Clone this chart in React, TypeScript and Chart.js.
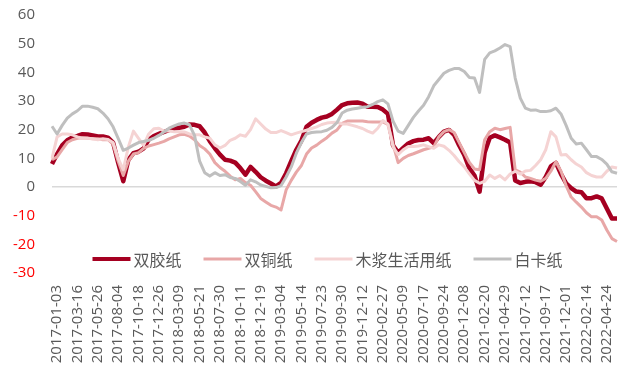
import React, { useEffect, useRef } from 'react';
import { Chart, registerables } from 'chart.js';

Chart.register(...registerables);

// x-axis tick labels (one every POINTS_PER_LABEL data points)
const tickLabels = [
  '2017-01-03', '2017-03-16', '2017-05-26', '2017-08-04', '2017-10-18', '2017-12-26',
  '2018-03-09', '2018-05-21', '2018-07-30', '2018-10-11', '2018-12-19', '2019-03-04',
  '2019-05-14', '2019-07-23', '2019-09-30', '2019-12-12', '2020-02-27', '2020-05-09',
  '2020-07-17', '2020-09-24', '2020-12-08', '2021-02-20', '2021-04-29', '2021-07-12',
  '2021-09-17', '2021-12-01', '2022-02-14', '2022-04-24',
];
const POINTS_PER_LABEL = 4;

const seriesNames = ['双胶纸', '双铜纸', '木浆生活用纸', '白卡纸'];

// 双胶纸
const shuangJiao = [
  8, 11.5, 14.5, 16.3, 17.3, 17.8, 18.4, 18.3, 18, 17.6,
  17.6, 17.2, 15.5, 8.5, 2, 9.5, 11.8, 12.3, 13.5, 16.5,
  17.8, 18.5, 19.2, 19.8, 20.4, 20.7, 21, 21.8, 21.7, 21.2,
  19, 16, 13.5, 11.3, 9.5, 9.2, 8.5, 6.6, 4.3, 7,
  5.3, 3.4, 2.2, 1.2, 0.2, 1.5, 4.8, 9, 13, 16.2,
  21, 22.4, 23.4, 24.2, 24.6, 25.5, 27, 28.6, 29.2, 29.4,
  29.5, 29.1, 28, 28, 27.9, 27, 25.5, 14.5, 12, 13.6,
  15.2, 16, 16.4, 16.5, 17, 15.3, 17.5, 19.3, 19.9, 18.2,
  14.5, 11.2, 6.5, 4, -1.6, 12, 17.2, 18, 17.3, 16.5,
  15.5, 2.3, 1.4, 1.8, 2, 1.7, 0.8, 3.5, 7.2, 8.4,
  4.5, 1.3, -0.4, -1.6, -1.8, -3.9, -3.9, -3.3, -4, -7.5,
  -11, -11,
];

// 双铜纸
const shuangTong = [
  9.5, 10.5, 13, 15.5, 16.5, 17, 17.2, 17, 16.8, 16.8,
  16.5, 16.5, 15, 9, 4, 9, 11.5, 12, 13.5, 14.3,
  14.8, 15.3, 15.9, 16.8, 17.5, 18.2, 18.4, 17.8, 16.5, 14.5,
  13.3, 11.5, 8.5, 6.8, 5.5, 3.8, 2.5, 3, 1.5, 0.6,
  -1.6, -4, -5.2, -6.4, -7, -8, -1, 2.3, 5.2, 7.5,
  11.5, 13.6, 14.6, 16, 17.2, 18.8, 19.9, 22.2, 23, 23,
  23, 23, 22.8, 22.7, 22.7, 22.7, 21.8, 15, 8.5, 10,
  11, 11.6, 12.3, 13, 13.5, 14, 17.5, 19.3, 20, 19,
  15.5, 12, 8.6, 6.3, 6, 16.5, 19.3, 20.5, 20, 20.4,
  20.8, 6, 5.2, 3.5, 3, 2.4, 2, 3, 5.5, 8.8,
  5.5, 0.5, -3.5, -5.3, -7, -9, -10.4, -10.4, -11.5, -15,
  -18, -19,
];

// 木浆生活用纸
const muJiang = [
  10, 17.5, 18.5, 18.5, 18.2, 17.5, 17, 17, 16.8, 16.5,
  16.8, 16.6, 15.5, 10, 6, 14, 19.5, 17, 14.5, 18.5,
  20.3, 20.5, 19.5, 19.5, 19.3, 19.3, 19.2, 18.5, 18.2, 18.2,
  17.5, 17, 14.7, 13.6, 14.5, 16.3, 17, 18.2, 17.7, 20,
  23.8, 22, 20.2, 19, 19, 19.7, 19, 18.2, 18.8, 19.3,
  19.8, 20.4, 21, 21.8, 22.3, 22.5, 22.6, 22, 22, 21.5,
  21, 20.4, 19.5, 18.8, 20.5, 23.2, 22, 14, 11.3, 13,
  14.1, 14.1, 14.3, 14.7, 14.1, 13.5, 14.7, 14.2, 12.8, 11,
  8.8, 7, 4.6, 2.3, 1.3, 2, 4.2, 3, 4, 2.5,
  4.5, 5.5, 4.5, 5.6, 5.8, 7.5, 9.5, 13, 19.3, 17.5,
  11.2, 11.3, 9.5, 8, 7, 5, 4, 3.5, 3.5, 5.5,
  7, 6.6,
];

// 白卡纸
const baiKa = [
  21.2, 18.5, 21.5, 24, 25.5, 26.6, 28.2, 28.2, 27.8, 27.3,
  25.8, 23.8, 21, 17, 12.8, 13.6, 14.6, 15.5, 15.9, 16.3,
  17, 18, 19.2, 20.5, 21.3, 22, 22.3, 21.7, 18, 9,
  5, 3.8, 5, 4, 4.3, 3.3, 3, 1.9, 0.6, 2.5,
  1.8, 0.7, 0.2, -0.3, -0.2, 0.5, 3.5, 7, 11.8, 15.5,
  18.5, 19, 19.2, 19.3, 19.8, 20.8, 22.5, 25.8, 26.8, 27.2,
  27.5, 27.8, 28, 28.8, 29.8, 30.4, 29, 23, 19.5, 18.7,
  21.5, 24.3, 26.5, 28.5, 31.5, 35.3, 37.5, 39.7, 40.7, 41.3,
  41.3, 40.3, 38.2, 38, 33, 44.5, 46.8, 47.5, 48.5, 49.7,
  49, 38, 31, 27.5, 26.8, 26.9, 26.3, 26.3, 26.6, 27.5,
  25.5, 21.5, 17, 15, 15.3, 13, 10.6, 10.6, 9.6, 8,
  5.3, 4.8,
];

const Y_MIN = -30;
const Y_MAX = 60;
const Y_STEP = 10;

const seriesColors = ['#A50021', '#E8A7A7', '#F5D3D3', '#BFBFBF'];
const seriesWidths = [4.5, 3, 3, 3];

const inlineLegend = {
  id: 'inlineLegend',
  afterDatasetsDraw(chart: any) {
    const { ctx, chartArea } = chart;
    ctx.save();
    ctx.font = '16px "Noto Sans CJK SC"';
    const lineLen = 38;
    const gap = 3;
    const itemGap = 22;
    const items = chart.data.datasets.map((ds: any) => ({
      label: ds.label,
      color: ds.borderColor,
      width: ds.borderWidth,
      tw: ctx.measureText(ds.label).width,
    }));
    const total =
      items.reduce((s: number, it: any) => s + lineLen + gap + it.tw, 0) +
      itemGap * (items.length - 1);
    let x = (chartArea.left + chartArea.right) / 2 - total / 2 - 7;
    const y = chartArea.bottom - 14;
    for (const it of items) {
      ctx.strokeStyle = it.color;
      ctx.lineWidth = it.width > 4 ? 4 : it.width;
      ctx.lineCap = 'butt';
      ctx.beginPath();
      ctx.moveTo(x, y);
      ctx.lineTo(x + lineLen, y);
      ctx.stroke();
      x += lineLen + gap;
      ctx.fillStyle = '#595959';
      ctx.textBaseline = 'middle';
      ctx.textAlign = 'left';
      ctx.fillText(it.label, x, y + 1);
      x += it.tw + itemGap;
    }
    ctx.restore();
  },
};

export default function App() {
  const canvasRef = useRef<HTMLCanvasElement | null>(null);

  useEffect(() => {
    const canvas = canvasRef.current;
    if (!canvas) return;
    const labels = shuangJiao.map((_, i) =>
      i % POINTS_PER_LABEL === 0 ? tickLabels[i / POINTS_PER_LABEL] ?? '' : ''
    );
    const seriesData = [shuangJiao, shuangTong, muJiang, baiKa];
    const chart = new Chart(canvas, {
      type: 'line',
      data: {
        labels,
        datasets: seriesNames.map((name, k) => ({
          label: name,
          data: seriesData[k],
          borderColor: seriesColors[k],
          backgroundColor: seriesColors[k],
          borderWidth: seriesWidths[k],
          pointRadius: 0,
          tension: 0,
          fill: false,
          borderJoinStyle: 'round' as const,
          order: 4 - k,
        })),
      },
      options: {
        responsive: false,
        animation: false,
        layout: { padding: { left: 8, top: 15, right: 5, bottom: 0 } },
        plugins: {
          legend: { display: false },
          tooltip: { enabled: false },
        },
        scales: {
          x: {
            type: 'category',
            offset: false,
            grid: { display: false, drawTicks: false },
            border: { display: false },
            ticks: {
              autoSkip: false,
              maxRotation: 90,
              minRotation: 90,
              padding: 12,
              labelOffset: 5,
              color: '#595959',
              font: { family: '"Open Sans"', size: 15 },
            },
            afterFit(scale: any) {
              scale.height = 96;
              scale.paddingLeft = 0;
              scale.paddingRight = 0;
            },
          },
          y: {
            min: Y_MIN,
            max: Y_MAX,
            grid: {
              drawTicks: false,
              color: (ctx: any) => (ctx.tick && ctx.tick.value === 0 ? '#D9D9D9' : 'rgba(0,0,0,0)'),
              lineWidth: 1.5,
            },
            border: { display: false },
            ticks: {
              stepSize: Y_STEP,
              padding: 17,
              color: (ctx: any) => (ctx.tick && ctx.tick.value < 0 ? '#FF0000' : '#595959'),
              font: { family: '"Open Sans"', size: 15 },
            },
            afterFit(scale: any) {
              scale.width = 44;
              scale.paddingTop = 0;
              scale.paddingBottom = 0;
            },
          },
        },
      },
      plugins: [inlineLegend],
    });
    return () => chart.destroy();
  }, []);

  return (
    <div style={{ position: 'absolute', left: 0, top: 0, width: 622, height: 369, background: '#fff' }}>
      <canvas ref={canvasRef} width={622} height={369} style={{ display: 'block' }} />
    </div>
  );
}
